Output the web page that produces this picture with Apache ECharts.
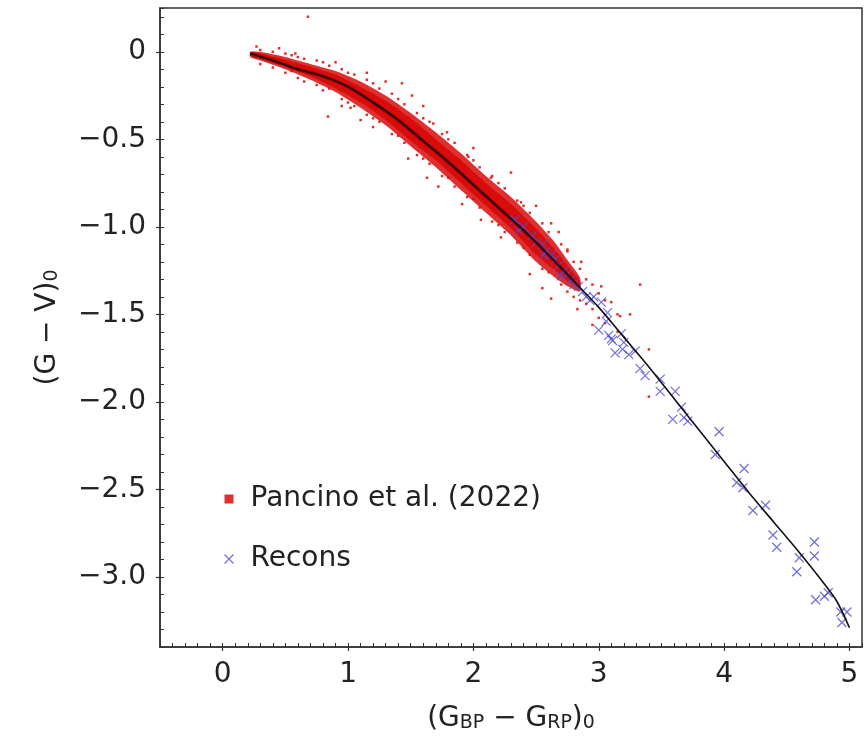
<!DOCTYPE html>
<html>
<head>
<meta charset="utf-8">
<script src="https://cdn.jsdelivr.net/npm/echarts@6/dist/echarts.min.js"></script>
<style>html,body{margin:0;padding:0;background:#fff;}#chart{width:868px;height:740px;}</style>
</head>
<body>
<div id="chart"></div>
<script>
// ---- data ----
const xTickLabels = [0, 1, 2, 3, 4, 5];
const yTickLabels = [0, -0.5, -1.0, -1.5, -2.0, -2.5, -3.0];

// fitted relation (black curve)
const lineX = [0.22, 0.4, 0.6, 0.8, 1.0, 1.2, 1.4, 1.6, 1.8, 2.0, 2.2, 2.4, 2.6, 2.8, 3.0, 3.2, 3.4, 3.6, 3.8, 4.0, 4.2, 4.4, 4.6, 4.8, 4.9, 5.0];
const lineY = [-0.01, -0.05, -0.10, -0.14, -0.20, -0.29, -0.39, -0.51, -0.63, -0.76, -0.89, -1.02, -1.16, -1.31, -1.46, -1.63, -1.80, -1.98, -2.16, -2.34, -2.52, -2.69, -2.86, -3.04, -3.14, -3.29];

// dense Pancino et al. (2022) cloud: outer envelope (sparser) and inner core (densest)
const bandX      = [0.22, 0.3, 0.5, 0.7, 0.9, 1.1, 1.3, 1.5, 1.7, 1.9, 2.1, 2.3, 2.5, 2.65, 2.75, 2.85];
const outerUpper = [0.00, 0.00, -0.03, -0.07, -0.11, -0.17, -0.25, -0.35, -0.46, -0.58, -0.71, -0.83, -0.97, -1.09, -1.19, -1.29];
const outerLower = [-0.03, -0.05, -0.10, -0.16, -0.23, -0.32, -0.42, -0.54, -0.66, -0.79, -0.92, -1.05, -1.20, -1.29, -1.34, -1.37];
const innerUpper = [-0.005, -0.01, -0.045, -0.085, -0.13, -0.20, -0.28, -0.38, -0.50, -0.62, -0.75, -0.87, -1.01, -1.13, -1.22, -1.31];
const innerLower = [-0.02, -0.04, -0.085, -0.14, -0.21, -0.29, -0.39, -0.51, -0.62, -0.75, -0.88, -1.01, -1.16, -1.25, -1.31, -1.35];

// individual Pancino et al. (2022) stars around the dense core
const pancinoScatter = [
  [0.30,0.01],[0.30,-0.07],[0.40,0.00],[0.40,-0.09],[0.50,-0.01],[0.50,-0.12],[0.55,-0.02],[0.55,-0.11],
  [0.60,-0.03],[0.60,-0.15],[0.65,-0.04],[0.65,-0.17],[0.75,-0.05],[0.75,-0.19],[0.80,-0.06],[0.80,-0.22],
  [0.85,-0.08],[0.85,-0.21],[0.95,-0.10],[0.95,-0.27],[1.00,-0.12],[1.00,-0.29],[1.05,-0.13],[1.05,-0.31],
  [1.15,-0.16],[1.15,-0.36],[1.20,-0.18],[1.20,-0.38],[1.25,-0.21],[1.25,-0.40],[1.35,-0.24],[1.35,-0.47],
  [1.40,-0.27],[1.40,-0.48],[1.45,-0.30],[1.45,-0.52],[1.55,-0.35],[1.55,-0.59],[1.60,-0.38],[1.60,-0.61],
  [1.65,-0.40],[1.65,-0.64],[1.75,-0.47],[1.75,-0.71],[1.80,-0.50],[1.80,-0.72],[1.85,-0.52],[1.85,-0.77],
  [1.95,-0.59],[1.95,-0.83],[2.00,-0.62],[2.00,-0.84],[2.05,-0.66],[2.05,-0.89],[2.15,-0.71],[2.15,-0.97],
  [2.20,-0.75],[2.20,-0.99],[2.25,-0.78],[2.25,-1.03],[2.35,-0.85],[2.35,-1.09],[2.40,-0.88],[2.40,-1.12],
  [2.45,-0.92],[2.45,-1.16],[2.55,-0.98],[2.55,-1.24],[2.60,-1.03],[2.60,-1.26],[2.70,-1.10],[2.70,-1.33],
  [2.75,-1.14],[2.75,-1.37],[2.80,-1.20],[2.80,-1.40],[2.85,-1.24],[2.85,-1.42],[2.90,-1.30],[2.90,-1.44],
  [2.95,-1.33],[2.95,-1.47],[3.00,-1.38],[3.00,-1.52],[3.05,-1.42],[3.05,-1.55],[3.15,-1.50],[3.15,-1.60],
  [0.68,0.20],[0.27,0.03],[0.84,-0.37],[1.30,-0.17],[1.43,-0.18],[1.51,-0.25],[1.68,-0.41],[1.79,-0.46],
  [1.48,-0.61],[1.63,-0.72],[1.20,-0.43],[1.02,-0.32],[2.30,-0.69],[1.96,-0.60],[2.14,-0.72],[1.91,-0.87],
  [2.06,-0.96],[2.38,-0.86],[2.22,-1.06],[2.62,-0.98],[2.68,-1.03],[2.86,-1.20],[2.62,-1.41],[2.83,-1.47],
  [3.02,-1.34],[3.10,-1.43],[3.17,-1.51],[3.33,-1.33],[3.40,-1.70],[3.40,-1.97],[0.45,0.02],[0.58,-0.01],
  [0.90,-0.06],[0.95,-0.31],[1.10,-0.39],[1.15,-0.12],[1.60,-0.31],[1.72,-0.77],[2.00,-0.55],[2.50,-0.88],
  [2.45,-1.27],[2.55,-1.35],[2.75,-1.13],[2.95,-1.56],[3.25,-1.50]
];

// Recons sample
const reconsX = [2.33,2.36,2.40,2.47,2.50,2.55,2.56,2.58,2.62,2.65,2.68,2.70,2.72,2.75,2.78,2.80,2.84,2.87,2.90,2.93,2.96,3.00,3.02,3.06,3.07,3.08,3.10,3.11,3.13,3.18,3.19,3.20,3.24,3.29,3.33,3.37,3.49,3.49,3.61,3.66,3.59,3.68,3.71,3.96,3.93,4.16,4.10,4.15,4.33,4.23,4.39,4.42,4.60,4.58,4.72,4.72,4.73,4.80,4.83,4.93,4.98,4.94];
const reconsY = [-0.96,-1.02,-1.00,-1.05,-1.09,-1.10,-1.16,-1.14,-1.16,-1.19,-1.22,-1.28,-1.25,-1.27,-1.30,-1.33,-1.34,-1.37,-1.40,-1.42,-1.40,-1.59,-1.43,-1.54,-1.49,-1.62,-1.64,-1.65,-1.72,-1.61,-1.70,-1.66,-1.73,-1.71,-1.81,-1.85,-1.87,-1.94,-1.94,-2.03,-2.10,-2.09,-2.11,-2.17,-2.30,-2.38,-2.46,-2.49,-2.59,-2.62,-2.76,-2.83,-2.89,-2.97,-2.80,-2.88,-3.13,-3.11,-3.09,-3.20,-3.20,-3.26];

// ---- chart ----
const FONT = 'DejaVu Sans';
const TXT = '#222';
const RED = '#d90c0c';
const BLUE = '#5050d0';
const CROSS = 'path://M0,0L10,10M10,0L0,10';

const chart = echarts.init(document.getElementById('chart'), null, {renderer: 'canvas'});

const subRich = {s: {fontSize: 19, fontFamily: FONT, color: TXT, verticalAlign: 'bottom', lineHeight: 12}};

function bandSeries(name, up, lo, fill, opacity, z) {
  return {
    name: name, type: 'custom', xAxisIndex: 0, yAxisIndex: 0, silent: true,
    data: [[bandX[0], up[0]]],
    renderItem: function (params, api) {
      const pts = [];
      for (let i = 0; i < bandX.length; i++) pts.push(api.coord([bandX[i], up[i]]));
      for (let i = bandX.length - 1; i >= 0; i--) pts.push(api.coord([bandX[i], lo[i]]));
      return {type: 'polygon', shape: {points: pts, smooth: 0.2}, style: {fill: fill, opacity: opacity}};
    },
    z: z
  };
}

const option = {
  animation: false,
  backgroundColor: '#fff',
  grid: {left: 160, right: 6, top: 8, bottom: 93, show: true, borderColor: '#333', borderWidth: 1.5, backgroundColor: 'transparent'},
  legend: {
    orient: 'vertical', left: 217, top: 478, itemGap: 28, itemWidth: 9, itemHeight: 9,
    textStyle: {fontSize: 28, fontFamily: FONT, color: TXT, lineHeight: 32, padding: [0, 0, 0, 12]},
    data: [
      {name: 'Pancino et al. (2022)', icon: 'rect', itemStyle: {color: RED}},
      {name: 'Recons', icon: CROSS, itemStyle: {color: 'none', borderColor: BLUE, borderWidth: 1.3}}
    ]
  },
  xAxis: [
    {
      type: 'value', min: -0.5, max: 5.1, position: 'bottom',
      axisLine: {show: true, onZero: false, lineStyle: {color: '#333', width: 1.5}},
      splitLine: {show: false},
      axisTick: {show: true, inside: false, length: 4, customValues: xTickLabels, lineStyle: {color: '#333', width: 1.2}},
      axisLabel: {customValues: xTickLabels, fontSize: 28, fontFamily: FONT, color: TXT, margin: 14,
        formatter: v => String(v)},
      name: '(G{s|BP} − G{s|RP}){s|0}', nameLocation: 'middle', nameGap: 58,
      nameTextStyle: {fontSize: 28, fontFamily: FONT, color: TXT, rich: subRich}
    },
    {
      type: 'value', min: -0.5, max: 5.1, interval: 0.1, position: 'bottom',
      axisLine: {show: false, onZero: false}, splitLine: {show: false}, axisLabel: {show: false},
      axisTick: {show: true, inside: true, length: 4, lineStyle: {color: '#333', width: 1}}
    }
  ],
  yAxis: [
    {
      type: 'value', min: -3.4, max: 0.25, position: 'left',
      axisLine: {show: true, onZero: false, lineStyle: {color: '#333', width: 1.5}},
      splitLine: {show: false},
      axisTick: {show: true, inside: false, length: 4, customValues: yTickLabels, lineStyle: {color: '#333', width: 1.2}},
      axisLabel: {customValues: yTickLabels, fontSize: 28, fontFamily: FONT, color: TXT, margin: 14,
        formatter: v => (Math.abs(v) < 1e-9 ? '0' : v.toFixed(1).replace('-', '\u2212'))},
      name: '(G − V){s|0}', nameLocation: 'middle', nameGap: 98, nameRotate: 90,
      nameTextStyle: {fontSize: 28, fontFamily: FONT, color: TXT, rich: subRich}
    },
    {
      type: 'value', min: -3.4, max: 0.25, interval: 0.1, position: 'left',
      axisLine: {show: false, onZero: false}, splitLine: {show: false}, axisLabel: {show: false},
      axisTick: {show: true, inside: true, length: 4, lineStyle: {color: '#333', width: 1}}
    }
  ],
  series: [
    bandSeries('bandOuter', outerUpper, outerLower, RED, 0.85, 1),
    bandSeries('bandInner', innerUpper, innerLower, RED, 1, 2),
    {
      name: 'Pancino et al. (2022)', type: 'scatter', xAxisIndex: 0, yAxisIndex: 0,
      data: pancinoScatter, symbol: 'rect', symbolSize: 2.5,
      itemStyle: {color: RED, opacity: 0.85}, z: 3
    },
    {
      name: 'core', type: 'line', xAxisIndex: 0, yAxisIndex: 0, silent: true,
      data: lineX.filter(x => x <= 2.8).map((x, i) => [x, lineY[i]]),
      smooth: 0.3, symbol: 'none', lineStyle: {color: '#a80000', width: 4, opacity: 0.85}, z: 4
    },
    {
      name: 'Recons', type: 'scatter', xAxisIndex: 0, yAxisIndex: 0,
      data: reconsX.map((x, i) => [x, reconsY[i]]),
      symbol: CROSS, symbolSize: 9,
      itemStyle: {color: 'none', borderColor: BLUE, borderWidth: 1.3}, z: 5
    },
    {
      name: 'relation', type: 'line', xAxisIndex: 0, yAxisIndex: 0, silent: true,
      data: lineX.map((x, i) => [x, lineY[i]]),
      smooth: 0.3, symbol: 'none', lineStyle: {color: '#111', width: 1.6}, z: 6
    }
  ]
};
chart.setOption(option);
</script>
</body>
</html>
